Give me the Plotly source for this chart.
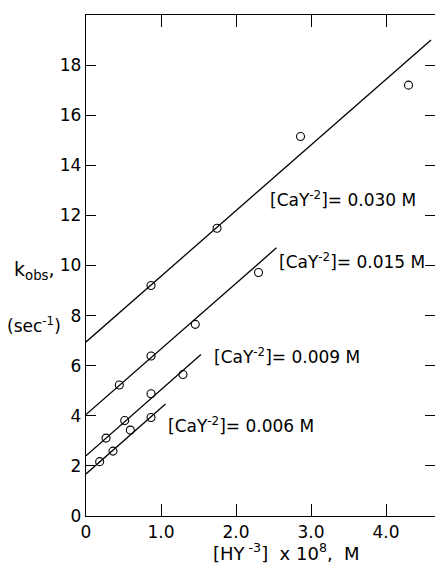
import plotly.graph_objects as go

# Data
conc_labels = ["0.030", "0.015", "0.009", "0.006"]
x_030 = [0.867, 1.747, 2.86, 4.30]
y_030 = [9.2, 11.49, 15.15, 17.2]
x_015 = [0.444, 0.867, 1.457, 2.30]
y_015 = [5.23, 6.39, 7.65, 9.72]
x_009 = [0.267, 0.516, 0.867, 1.293]
y_009 = [3.11, 3.81, 4.88, 5.65]
x_006 = [0.182, 0.36, 0.591, 0.867]
y_006 = [2.17, 2.59, 3.43, 3.93]

# fitted lines (intercept, slope, x-extent)
line_intercepts = [6.95, 4.05, 2.40, 1.68]
line_slopes = [2.62, 2.62, 2.64, 2.63]
line_x_start = [0.0, 0.0, 0.0, 0.0]
line_x_end = [4.60, 2.54, 1.533, 1.06]

# label anchor positions (data coords)
label_x = [2.43, 2.54, 1.68, 1.07]
label_y = [12.64, 10.17, 6.37, 3.64]

x_ticks = [0, 1, 2, 3, 4]
x_tick_text = ["0", "1.0", "2.0", "3.0", "4.0"]
y_ticks = [0, 2, 4, 6, 8, 10, 12, 14, 16, 18]
y_tick_text = ["0", "2", "4", "6", "8", "10", "12", "14", "16", "18"]

FONT = "DejaVu Sans"
W, H = 435, 579
L, R, T, B = 86, 435, 15, 516

fig = go.Figure()
series = [(x_030, y_030), (x_015, y_015), (x_009, y_009), (x_006, y_006)]
for i, (xs, ys) in enumerate(series):
    x0, x1 = line_x_start[i], line_x_end[i]
    b, m = line_intercepts[i], line_slopes[i]
    fig.add_trace(go.Scatter(x=[x0, x1], y=[b + m * x0, b + m * x1], mode="lines",
                             line=dict(color="black", width=1.3), showlegend=False,
                             hoverinfo="skip"))
    fig.add_trace(go.Scatter(x=xs, y=ys, mode="markers",
                             marker=dict(symbol="circle-open", size=8,
                                         color="black", line=dict(width=1.1)),
                             showlegend=False))

for i, c in enumerate(conc_labels):
    fig.add_annotation(x=label_x[i], y=label_y[i], xref="x", yref="y",
                       text="[CaY<sup>-2</sup>]= " + c + " M", showarrow=False,
                       xanchor="left", yanchor="middle",
                       font=dict(family=FONT, size=17, color="black"))

def px(xp):
    return (xp - L) / (R - L)

def py(yp):
    return (B - yp) / (B - T)

fig.add_annotation(x=px(57), y=py(270), xref="paper", yref="paper",
                   xanchor="right", yanchor="middle",
                   text="k<sub>obs</sub>,", showarrow=False,
                   font=dict(family=FONT, size=19, color="black"))
fig.add_annotation(x=px(5), y=py(325), xref="paper", yref="paper",
                   xanchor="left", yanchor="middle",
                   text="(sec<sup>-1</sup>)", showarrow=False,
                   font=dict(family=FONT, size=17, color="black"))
fig.add_annotation(x=px(286), y=py(566), xref="paper", yref="paper",
                   text="[HY<sup> -3</sup>]  x 10<sup>8</sup>,  M", showarrow=False,
                   font=dict(family=FONT, size=18, color="black"))

x_range_max = (R - L) / 75.0
y_range_max = (B - T) / 25.05

fig.update_xaxes(range=[0, x_range_max], tickvals=x_ticks, ticktext=x_tick_text,
                 ticks="inside", ticklen=12, tickwidth=1, tickcolor="black",
                 showline=True, linecolor="black", linewidth=1.3, mirror="ticks",
                 showgrid=False, zeroline=False, automargin=False,
                 tickfont=dict(family=FONT, size=17, color="black"))
fig.update_yaxes(range=[0, y_range_max], tickvals=y_ticks, ticktext=y_tick_text,
                 ticks="inside", ticklen=10, tickwidth=1, tickcolor="black",
                 showline=True, linecolor="black", linewidth=1.3, mirror="ticks",
                 showgrid=False, zeroline=False, automargin=False,
                 tickfont=dict(family=FONT, size=17, color="black"))

fig.update_layout(width=W, height=H, margin=dict(l=L, r=W - R, t=T, b=H - B),
                  plot_bgcolor="white", paper_bgcolor="white",
                  font=dict(family=FONT, color="black"))

fig.write_html("out.html", config={"displayModeBar": False},
               post_script="document.body.style.margin='0';")
